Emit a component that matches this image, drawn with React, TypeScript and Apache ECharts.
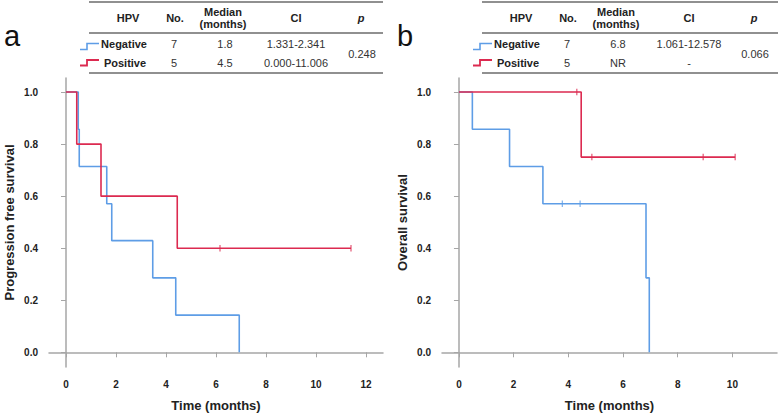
import React, { useEffect, useRef } from "react";
import * as echarts from "echarts";

// ---- Data ----
const xTicks = [0, 2, 4, 6, 8, 10, 12];
const xTicksB = [0, 2, 4, 6, 8, 10];
const yTicks = [0, 0.2, 0.4, 0.6, 0.8, 1.0];

// Panel a: progression free survival
const pfsNegTime = [0, 0.49, 0.53, 1.63, 1.83, 3.47, 4.39, 6.93];
const pfsNegSurv = [1.0, 0.857, 0.714, 0.571, 0.429, 0.286, 0.143, 0.0];
const pfsPosTime = [0, 0.43, 1.4, 4.45, 11.4];
const pfsPosSurv = [1.0, 0.8, 0.6, 0.4, 0.4];
const pfsPosCensorTime = [6.16, 11.4];
const pfsPosCensorSurv = [0.4, 0.4];

// Panel b: overall survival
const osNegTime = [0, 0.49, 1.85, 3.07, 6.84, 6.96];
const osNegSurv = [1.0, 0.857, 0.714, 0.571, 0.286, 0.0];
const osNegCensorTime = [3.78, 4.43];
const osNegCensorSurv = [0.571, 0.571];
const osPosTime = [0, 4.47, 10.1];
const osPosSurv = [1.0, 0.75, 0.75];
const osPosCensorTime = [4.31, 4.86, 8.93, 10.1];
const osPosCensorSurv = [1.0, 0.75, 0.75, 0.75];

// Table content
const tableHeaders = ["HPV", "No.", "Median\n(months)", "CI", "p"];
const groups = ["Negative", "Positive"];
const tableA = { no: ["7", "5"], median: ["1.8", "4.5"], ci: ["1.331-2.341", "0.000-11.006"], p: "0.248" };
const tableB = { no: ["7", "5"], median: ["6.8", "NR"], ci: ["1.061-12.578", "-"], p: "0.066" };

const BLUE = "#5e9de6";
const RED = "#dc2a50";
const AXIS = "#a6a6a6";
const FONT = "Liberation Sans, Arial, sans-serif";

const zip = (a: number[], b: number[]) => a.map((v, i) => [v, b[i]]);

function makeTable(dx: number, t: typeof tableA, letter: string, endX: number) {
  const els: any[] = [];
  const lx0 = 89 + dx;
  [2, 33, 73].forEach((y) => {
    els.push({ type: "line", shape: { x1: lx0, y1: y, x2: endX, y2: y }, style: { stroke: "#222", lineWidth: 1.2 } });
  });
  const colX = [128, 175, 223, 296, 361].map((v) => v + dx);
  tableHeaders.forEach((h, i) => {
    els.push({
      type: "text", x: colX[i], y: 18,
      style: {
        text: h, align: "center", verticalAlign: "middle", font: `${i === 4 ? "italic " : ""}bold 11px ${FONT}`,
        lineHeight: 12, fill: "#222",
      },
    });
  });
  const rowY = [44, 63];
  groups.forEach((g, r) => {
    els.push({ type: "text", x: 124 + dx + r, y: rowY[r], style: { text: g, align: "center", verticalAlign: "middle", font: `bold 11px ${FONT}`, fill: "#222" } });
    els.push({ type: "text", x: colX[1] - 1, y: rowY[r], style: { text: t.no[r], align: "center", verticalAlign: "middle", font: `11px ${FONT}`, fill: "#333" } });
    els.push({ type: "text", x: colX[2] + 2, y: rowY[r], style: { text: t.median[r], align: "center", verticalAlign: "middle", font: `11px ${FONT}`, fill: "#333" } });
    els.push({ type: "text", x: colX[3], y: rowY[r], style: { text: t.ci[r], align: "center", verticalAlign: "middle", font: `11px ${FONT}`, fill: "#333" } });
  });
  els.push({ type: "text", x: colX[4] + 1, y: 54, style: { text: t.p, align: "center", verticalAlign: "middle", font: `11px ${FONT}`, fill: "#333" } });
  els.push({ type: "polyline", shape: { points: [[80 + dx, 49.5], [87 + dx, 49.5], [87 + dx, 43.5], [99 + dx, 43.5]] }, style: { stroke: BLUE, lineWidth: 1.6, fill: null } });
  els.push({ type: "polyline", shape: { points: [[80 + dx, 65.5], [87 + dx, 65.5], [87 + dx, 60], [99 + dx, 60]] }, style: { stroke: RED, lineWidth: 1.8, fill: null } });
  els.push({ type: "text", x: 12 + dx, y: 36, style: { text: letter, align: "center", verticalAlign: "middle", font: `29px ${FONT}`, fill: "#111" } });
  return els;
}

function axisX(gi: number, min: number, max: number, ticks: number[]) {
  return {
    type: "value", gridIndex: gi, min, max,
    name: "Time (months)", nameLocation: "middle", nameGap: 32,
    nameTextStyle: { fontFamily: FONT, fontWeight: "bold", fontSize: 13, color: "#222" },
    axisLine: { show: true, lineStyle: { color: AXIS, width: 1.5 } },
    axisTick: { show: true, length: 5, customValues: ticks, lineStyle: { color: AXIS, width: 1 } },
    axisLabel: { customValues: ticks, margin: 12, fontFamily: FONT, fontWeight: "bold", fontSize: 10, color: "#222" },
    splitLine: { show: false },
  };
}
function axisY(gi: number, name: string) {
  return {
    type: "value", gridIndex: gi, min: -0.0565, max: 1.054,
    name, nameLocation: "middle", nameGap: 33,
    nameTextStyle: { fontFamily: FONT, fontWeight: "bold", fontSize: 13, color: "#222" },
    axisLine: { show: true, lineStyle: { color: AXIS, width: 1.5 } },
    axisTick: { show: true, length: 5, customValues: yTicks, lineStyle: { color: AXIS, width: 1 } },
    axisLabel: { customValues: yTicks, margin: 11, formatter: (v: number) => v.toFixed(1), fontFamily: FONT, fontWeight: "bold", fontSize: 10, color: "#222" },
    splitLine: { show: false },
  };
}
function stepSeries(i: number, data: number[][], color: string) {
  return { type: "line", xAxisIndex: i, yAxisIndex: i, step: "end", data, showSymbol: false, symbol: "none", lineStyle: { color, width: 1.6 }, z: color === RED ? 3 : 2 };
}
function censorSeries(i: number, data: number[][], color: string) {
  return { type: "scatter", xAxisIndex: i, yAxisIndex: i, data, symbol: "rect", symbolSize: [1.2, 6.5], itemStyle: { color }, z: 4 };
}

export default function App() {
  const ref = useRef<HTMLDivElement>(null);
  useEffect(() => {
    if (!ref.current) return;
    const chart = echarts.init(ref.current, null, { renderer: "svg" });
    chart.setOption({
      animation: false,
      backgroundColor: "#fff",
      grid: [
        { left: 49, right: 395, top: 78, bottom: 46, outerBoundsMode: "none", containLabel: false },
        { left: 442, right: 1, top: 78, bottom: 46, outerBoundsMode: "none", containLabel: false },
      ],
      xAxis: [axisX(0, -0.68, 12.68, xTicks), axisX(1, -0.62, 11.63, xTicksB)],
      yAxis: [axisY(0, "Progression free survival"), axisY(1, "Overall survival")],
      series: [
        stepSeries(0, zip(pfsNegTime, pfsNegSurv), BLUE),
        stepSeries(0, zip(pfsPosTime, pfsPosSurv), RED),
        censorSeries(0, zip(pfsPosCensorTime, pfsPosCensorSurv), RED),
        stepSeries(1, zip(osNegTime, osNegSurv), BLUE),
        stepSeries(1, zip(osPosTime, osPosSurv), RED),
        censorSeries(1, zip(osNegCensorTime, osNegCensorSurv), BLUE),
        censorSeries(1, zip(osPosCensorTime, osPosCensorSurv), RED),
      ],
      graphic: [...makeTable(0, tableA, "a", 383), ...makeTable(393, tableB, "b", 778)],
    });
    return () => chart.dispose();
  }, []);
  return <div ref={ref} style={{ width: 778, height: 413, position: "absolute", left: 0, top: 0 }} />;
}
